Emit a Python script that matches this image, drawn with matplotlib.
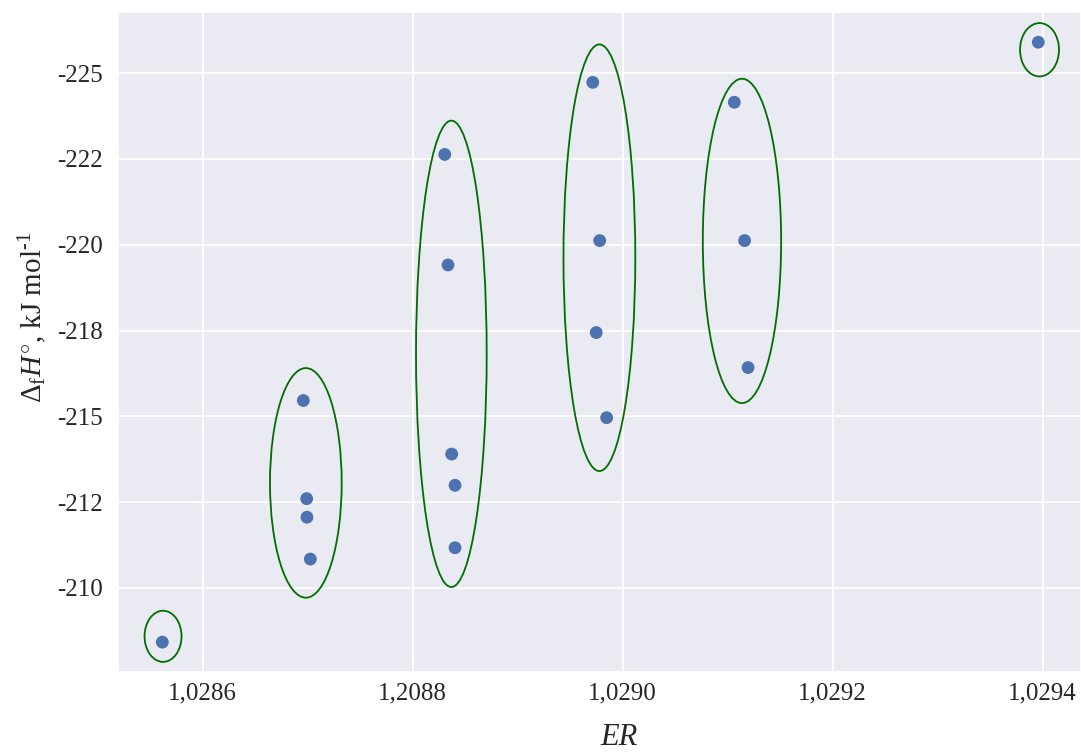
import matplotlib
matplotlib.use("Agg")
import matplotlib.pyplot as plt
import seaborn as sns
from matplotlib.patches import Ellipse

# ---- data ----
er_values = [1.0285615,
             1.0286958, 1.0286990, 1.0286993, 1.0287025,
             1.0288305, 1.0288336, 1.0288371, 1.0288403, 1.0288403,
             1.0289715, 1.0289781, 1.0289748, 1.0289847,
             1.0291063, 1.0291161, 1.0291194,
             1.0293958]
dh_values = [-208.42,
             -215.46, -212.60, -212.06, -210.84,
             -222.63, -219.41, -213.90, -212.99, -211.17,
             -224.73, -220.12, -217.44, -214.96,
             -224.15, -220.12, -216.42,
             -225.90]

# groups highlighted by ellipses: centre (ER, dH), width (ER), height (dH)
ell_cx = [1.0285622, 1.0286982, 1.0288368, 1.0289778, 1.0291136, 1.0293970]
ell_cy = [-208.59, -213.06, -216.82, -219.62, -220.11, -225.68]
ell_w = [0.0000352, 0.0000683, 0.0000673, 0.0000684, 0.0000746, 0.0000371]
ell_h = [1.49, 6.69, 13.59, 12.43, 9.45, 1.555]

x_ticks = [1.0286, 1.0288, 1.0290, 1.0292, 1.0294]
x_tick_labels = ["1,0286", "1,2088", "1,0290", "1,0292", "1,0294"]
y_ticks = [-225.0, -222.5, -220.0, -217.5, -215.0, -212.5, -210.0]
y_tick_labels = [f"{v:.0f}" for v in y_ticks]

# ---- style ----
sns.set_theme(style="darkgrid")
plt.rcParams["font.family"] = ["Liberation Serif", "DejaVu Serif"]
plt.rcParams["mathtext.fontset"] = "custom"
plt.rcParams["mathtext.rm"] = "Liberation Serif"
plt.rcParams["mathtext.it"] = "Liberation Serif:italic"
plt.rcParams["mathtext.bf"] = "Liberation Serif:bold"

fig = plt.figure(figsize=(10.81, 7.55), dpi=100)
ax = fig.add_axes([118 / 1081, 1 - 672 / 755, 1 - 118 / 1081, (672 - 12) / 755])

ax.scatter(er_values, dh_values, s=85, color="#4c72b0", edgecolor="none", zorder=3)

for cx, cy, w, h in zip(ell_cx, ell_cy, ell_w, ell_h):
    ax.add_patch(Ellipse((cx, cy), w, h, fill=False, edgecolor="#006e00",
                         linewidth=1.3, zorder=4))

ax.set_xlim(1.0285193, 1.0294365)
ax.set_ylim(-207.55, -226.78)

ax.set_xticks(x_ticks)
ax.set_xticklabels(x_tick_labels)
ax.set_yticks(y_ticks)
ax.set_yticklabels(y_tick_labels)
ax.tick_params(axis="both", labelsize=18, colors="#262626", length=0)
ax.tick_params(axis="x", pad=7.5)
ax.tick_params(axis="y", pad=10.8)
ax.grid(True, color="white", linewidth=1.3)

ax.set_xlabel("ER", fontsize=22, fontstyle="italic", color="#262626")
ax.xaxis.set_label_coords((619 - 118) / 963, (672 - 723) / 660)
ax.set_ylabel(r"$\mathit{\Delta}_{\mathrm{f}}\mathit{H}^{\circ}$, kJ mol$^{\text{-1}}$",
              fontsize=21, color="#262626")
ax.yaxis.set_label_coords((49 - 118) / 963, (672 - 317) / 660)

fig.savefig("out.png", dpi=100)
